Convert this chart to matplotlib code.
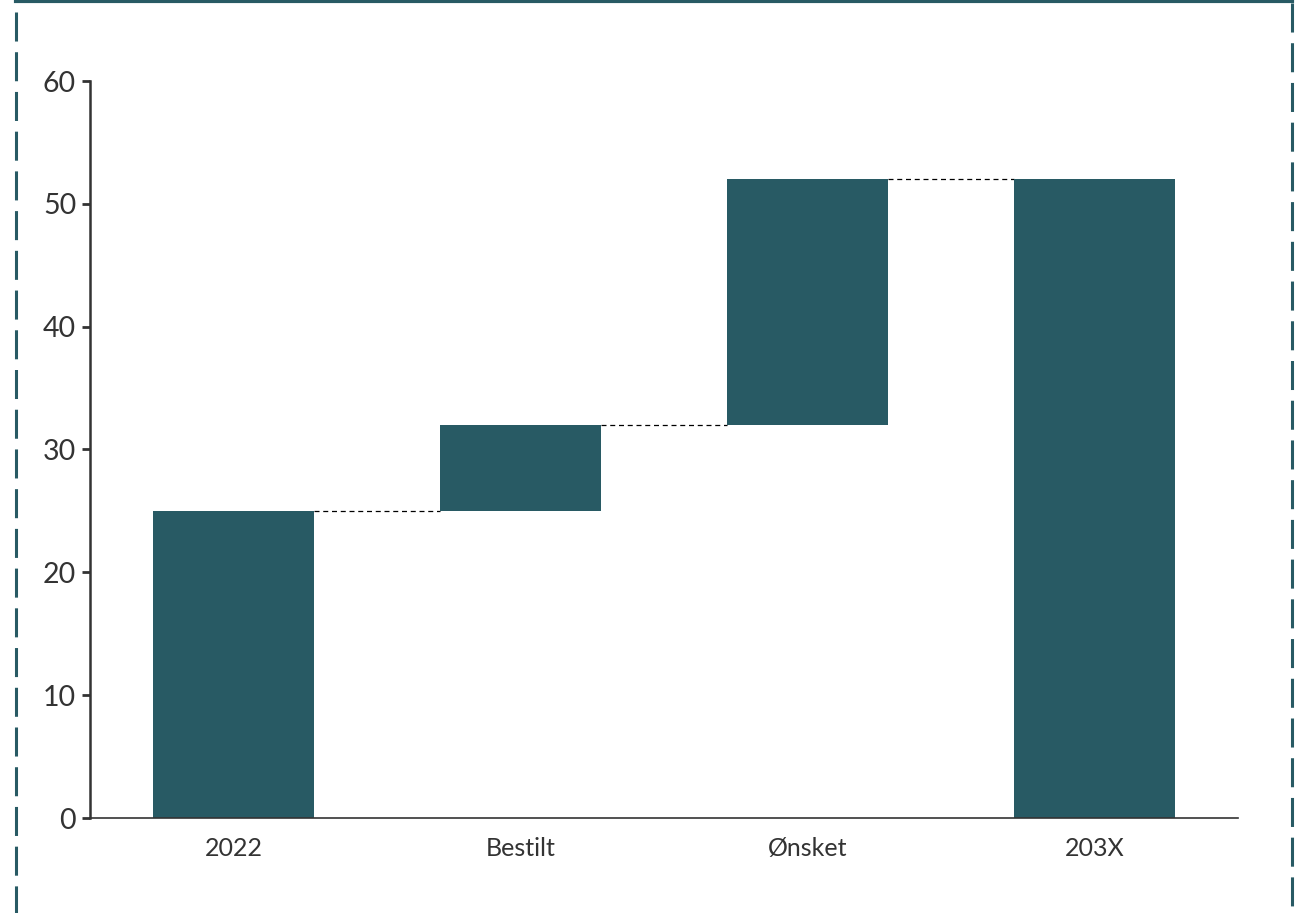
import numpy as np
import matplotlib.pyplot as plt
from matplotlib.lines import Line2D

# Waterfall data
categories = ["2022", "Bestilt", "Ønsket", "203X"]
steps = [25, 7, 20, None]   # None -> total bar
color = "#285A64"

# build bottoms / heights
bottoms, heights = [], []
level = 0
for s in steps:
    if s is None:
        bottoms.append(0)
        heights.append(level)
    else:
        bottoms.append(level)
        heights.append(s)
        level += s

plt.rcParams['font.family'] = ['Lato', 'DejaVu Sans']

fig = plt.figure(figsize=(13.04, 9.13), dpi=100)
ax = fig.add_axes([90/1304, 1 - 818/913, (1238-90)/1304, (818-81)/913])

x = np.arange(len(categories))
width = 0.56
ax.bar(x, heights, bottom=bottoms, width=width, color=color, zorder=2)

# dashed connectors between bar tops
tops = [b + h for b, h in zip(bottoms, heights)]
for i in range(len(categories) - 1):
    ax.plot([x[i] + width/2, x[i+1] - width/2], [tops[i], tops[i]],
            color="black", lw=0.9, ls=(0, (4, 3)), zorder=1)

ax.set_xlim(-0.5, 3.5)
ax.set_ylim(0, 60)
ax.set_yticks(np.arange(0, 61, 10))
ax.set_xticks(x)
ax.set_xticklabels(categories, fontsize=18, color="#333333")
ax.tick_params(axis='x', length=0, pad=14)
ax.tick_params(axis='y', labelsize=20.5, labelcolor="#333333", length=6,
               width=2, color="#333333", pad=4)

for side in ("top", "right"):
    ax.spines[side].set_visible(False)
ax.spines["left"].set_color("#333333")
ax.spines["left"].set_linewidth(1.8)
ax.spines["bottom"].set_color("#333333")
ax.spines["bottom"].set_linewidth(1.2)

# outer frame: solid top edge, dashed sides
fig.add_artist(Line2D([16/1304, 1292/1304], [1 - 1.5/913, 1 - 1.5/913],
                      transform=fig.transFigure, color=color, lw=3))
fig.add_artist(Line2D([16/1304, 16/1304], [1 - 12/913, 0],
                      transform=fig.transFigure, color=color, lw=2.2,
                      ls=(0, (9.5, 3.5))))
fig.add_artist(Line2D([1292/1304, 1292/1304], [1 - 3/913, 0],
                      transform=fig.transFigure, color=color, lw=2.2,
                      ls=(0, (9.5, 3.5))))

fig.savefig("out.png", dpi=100)
